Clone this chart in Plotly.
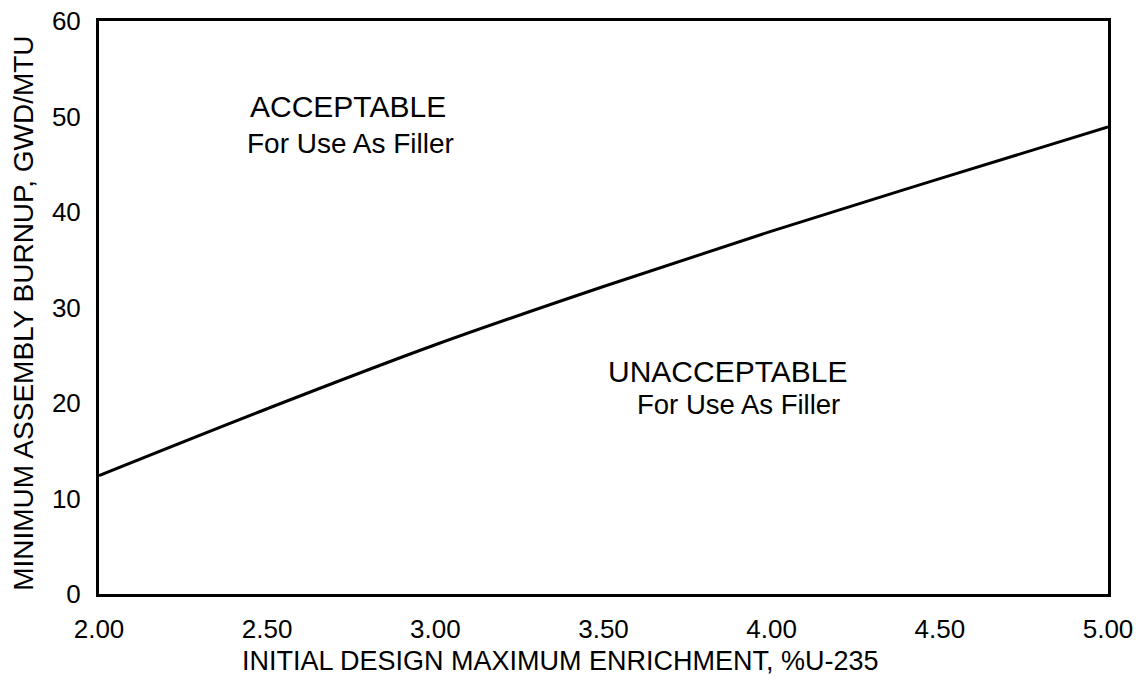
import plotly.graph_objects as go

# initial design maximum enrichment (%U-235) vs minimum assembly burnup (GWD/MTU)
enrichment = [2.00, 2.50, 3.00, 3.50, 4.00, 4.50, 5.00]
burnup = [12.4, 19.4, 26.1, 32.2, 38.0, 43.5, 48.9]

x_ticks = [2.00, 2.50, 3.00, 3.50, 4.00, 4.50, 5.00]
y_ticks = [0, 10, 20, 30, 40, 50, 60]

INK = "#000000"
FONT = "Arial, Liberation Sans, Helvetica, sans-serif"

fig = go.Figure(
    go.Scatter(
        x=enrichment,
        y=burnup,
        mode="lines",
        line={"color": INK, "width": 3, "shape": "spline", "smoothing": 1.0},
        hoverinfo="skip",
        showlegend=False,
    )
)

axis_common = dict(
    showgrid=False,
    zeroline=False,
    showline=True,
    linecolor=INK,
    linewidth=3,
    mirror=True,
    ticks="",
    automargin=False,
    ticklabeloverflow="allow",
    tickfont={"family": FONT, "size": 26, "color": INK},
)

fig.update_xaxes(
    range=[2, 5],
    tickvals=x_ticks,
    tickformat=".2f",
    ticklabelstandoff=10,
    **axis_common,
)
fig.update_yaxes(
    range=[0, 60],
    tickvals=y_ticks,
    ticklabelstandoff=10,
    **axis_common,
)

labels = [
    # text, x, y, size
    ("ACCEPTABLE", 2.443, 51.0, 30),
    ("For Use As Filler", 2.434, 47.2, 28),
    ("UNACCEPTABLE", 3.507, 23.25, 30),
    ("For Use As Filler", 3.594, 19.8, 27.5),
]
for text, x, y, size in labels:
    fig.add_annotation(
        text=text, x=x, y=y, xref="x", yref="y",
        xanchor="left", yanchor="middle", showarrow=False,
        font={"family": FONT, "size": size, "color": INK},
    )

fig.add_annotation(
    text="INITIAL DESIGN MAXIMUM ENRICHMENT, %U-235",
    x=0.457, y=-0.117, xref="paper", yref="paper",
    xanchor="center", yanchor="middle", showarrow=False,
    font={"family": FONT, "size": 27, "color": INK},
)
fig.add_annotation(
    text="MINIMUM ASSEMBLY BURNUP, GWD/MTU",
    x=-0.0743, y=0.489, xref="paper", yref="paper",
    xanchor="center", yanchor="middle", showarrow=False, textangle=-90,
    font={"family": FONT, "size": 28, "color": INK},
)

fig.update_layout(
    width=1139,
    height=685,
    margin={"l": 99, "r": 31, "t": 21, "b": 91},
    paper_bgcolor="white",
    plot_bgcolor="white",
    font={"family": FONT, "color": INK},
)

# drop the default 8px page margin so the figure sits at the window's corner
fig.write_html(
    "out.html",
    config={"displayModeBar": False},
    post_script="document.body.style.margin = '0';",
)
